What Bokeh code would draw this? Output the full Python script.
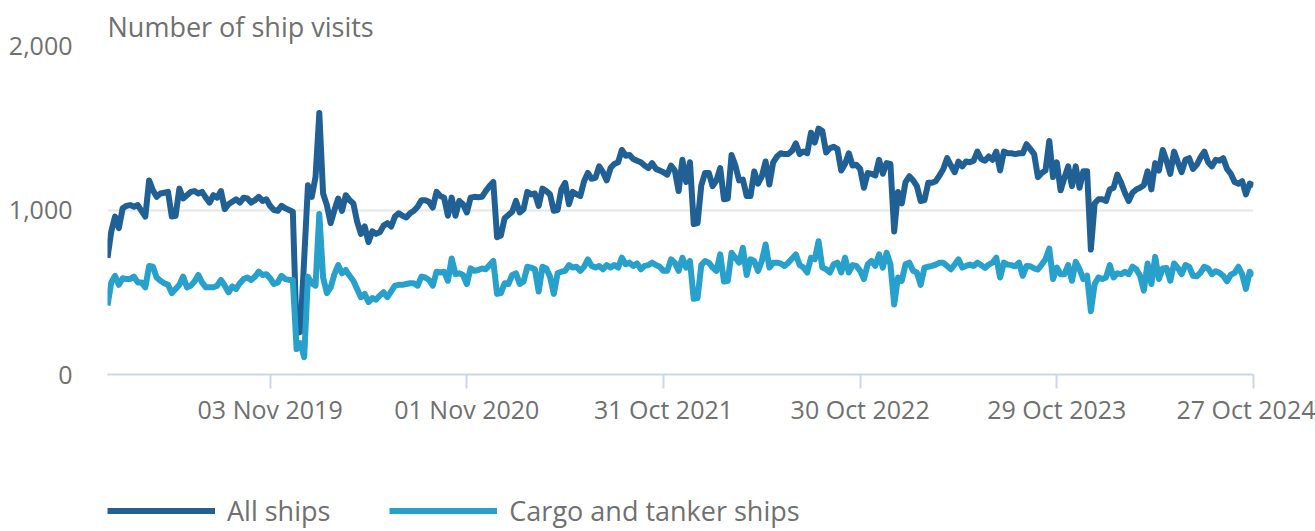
import pandas as pd
from bokeh.plotting import figure
from bokeh.layouts import column
from bokeh.models import (Range1d, FixedTicker, DatetimeTickFormatter, NumeralTickFormatter,
                          Legend, LegendItem, ColumnDataSource)
from bokeh.embed import file_html
from bokeh.resources import INLINE

# ---------------- data ----------------
start_date = "2019-01-06"   # weekly series, Sundays

all_ships = [
    710, 870, 960, 890, 1010, 1025, 1030, 1020, 1030, 995,
    960, 1180, 1120, 1080, 1100, 1105, 1110, 960, 965, 1130,
    1070, 1090, 1110, 1115, 1100, 1110, 1075, 1045, 1090, 1075,
    1115, 1005, 1035, 1050, 1065, 1045, 1075, 1070, 1045, 1060,
    1080, 1055, 1065, 1025, 1000, 995, 1025, 1010, 1000, 990,
    250, 260, 700, 1150, 1080, 1200, 1590, 1100, 1030, 920,
    1000, 1070, 995, 1090, 1060, 1040, 930, 855, 900, 805,
    870, 855, 865, 905, 920, 900, 960, 980, 965, 955,
    980, 995, 1020, 1060, 1060, 1050, 1015, 1110, 1085, 1075,
    965, 1075, 965, 1055, 1035, 985, 1075, 1080, 1078, 1080,
    1115, 1145, 1170, 835, 845, 950, 970, 990, 1055, 985,
    1005, 1110, 1095, 1100, 1025, 1130, 1115, 1095, 995, 1000,
    1125, 1165, 1035, 1110, 1095, 1085, 1175, 1225, 1190, 1195,
    1265, 1230, 1180, 1255, 1280, 1290, 1365, 1330, 1335, 1310,
    1300, 1290, 1270, 1255, 1285, 1250, 1240, 1230, 1215, 1270,
    1240, 1115, 1305, 1170, 1290, 915, 920, 1150, 1225, 1225,
    1145, 1180, 1255, 1065, 1070, 1335, 1270, 1180, 1185, 1085,
    1085, 1235, 1160, 1205, 1295, 1155, 1290, 1325, 1345, 1340,
    1340, 1360, 1405, 1340, 1355, 1345, 1470, 1410, 1495, 1480,
    1350, 1375, 1385, 1370, 1240, 1280, 1345, 1270, 1275, 1250,
    1135, 1225, 1220, 1210, 1305, 1220, 1285, 1280, 870, 1110,
    1040, 1170, 1205, 1180, 1145, 1055, 1060, 1165, 1165, 1175,
    1210, 1250, 1315, 1270, 1230, 1295, 1265, 1295, 1290, 1300,
    1355, 1310, 1300, 1325, 1305, 1355, 1240, 1355, 1345, 1345,
    1340, 1345, 1345, 1400, 1370, 1340, 1200, 1225, 1240, 1420,
    1200, 1290, 1120, 1195, 1265, 1145, 1265, 1135, 1235, 1235,
    760, 1040, 1065, 1065, 1055, 1125, 1135, 1215, 1165, 1105,
    1055, 1105, 1125, 1135, 1150, 1235, 1125, 1285, 1240, 1365,
    1300, 1220, 1355, 1290, 1230, 1305, 1315, 1250, 1275, 1320,
    1355, 1290, 1265, 1305, 1300, 1315, 1250, 1220, 1170, 1160,
    1175, 1095, 1160, 1150,
]

cargo_tanker = [
    420, 560, 600, 545, 585, 580, 580, 595, 560, 560,
    530, 660, 655, 590, 570, 555, 545, 495, 520, 545,
    595, 530, 540, 565, 605, 560, 530, 530, 530, 540,
    575, 540, 500, 535, 520, 555, 580, 590, 575, 595,
    625, 605, 610, 585, 550, 560, 600, 580, 575, 575,
    155, 190, 105, 595, 555, 540, 975, 590, 495, 530,
    610, 665, 615, 635, 600, 570, 520, 470, 490, 440,
    465, 455, 480, 500, 470, 505, 540, 545, 545, 550,
    555, 555, 540, 595, 590, 575, 540, 625, 620, 625,
    570, 705, 610, 615, 605, 550, 645, 630, 635, 645,
    640, 665, 690, 490, 495, 555, 550, 605, 615, 550,
    565, 655, 650, 640, 505, 655, 645, 595, 490, 615,
    625, 630, 665, 650, 655, 630, 655, 700, 660, 650,
    660, 640, 665, 650, 665, 650, 710, 670, 680, 660,
    675, 640, 660, 665, 680, 665, 655, 630, 630, 700,
    680, 630, 710, 650, 690, 460, 465, 665, 690, 680,
    650, 630, 730, 565, 570, 740, 710, 680, 770, 605,
    700, 690, 630, 690, 790, 650, 680, 680, 675, 660,
    680, 705, 730, 665, 650, 620, 710, 700, 810, 650,
    640, 620, 670, 680, 620, 710, 620, 665, 660, 630,
    580, 670, 690, 660, 730, 650, 740, 670, 425, 590,
    570, 670, 680, 630, 620, 545, 650, 655, 660, 668,
    680, 680, 660, 640, 668, 700, 650, 660, 668, 660,
    680, 665, 648, 668, 680, 710, 590, 680, 668, 665,
    658, 680, 600, 660, 658, 645, 638, 668, 700, 765,
    580, 650, 610, 610, 665, 570, 685, 640, 580, 600,
    385, 550, 590, 580, 590, 665, 590, 615, 610, 625,
    610, 655, 640, 600, 510, 675, 550, 715, 580, 645,
    648, 570, 675, 648, 610, 665, 655, 600, 597, 620,
    655, 645, 610, 628, 618, 600, 567, 607, 618, 655,
    610, 520, 625, 600,
]

series_names = ["All ships", "Cargo and tanker ships"]
tick_dates = ["2019-11-03", "2020-11-01", "2021-10-31", "2022-10-30", "2023-10-29", "2024-10-27"]
y_ticks = [0, 1000, 2000]
title_text = "Number of ship visits"

# ---------------- build ----------------
dates = pd.date_range(start_date, periods=len(all_ships), freq="7D")
src = ColumnDataSource(dict(date=dates, all=all_ships, cargo=cargo_tanker))

DARK = "#206095"
LIGHT = "#27A0CC"
GREY = "#707070"
FONT = "Open Sans"

p = figure(width=1315, height=440, x_axis_type="datetime",
           output_backend="svg", toolbar_location=None,
           x_range=Range1d(dates[0], dates[-1]), y_range=Range1d(0, 2000),
           min_border_left=107, min_border_right=62, min_border_top=45,
           min_border_bottom=66, title=title_text)

p.title.text_font = FONT
p.title.text_font_size = "27px"
p.title.text_font_style = "normal"
p.title.text_color = GREY
p.title.align = "left"
p.title.offset = 0
p.title.standoff = 1

p.line("date", "all", source=src, line_color=DARK, line_width=6, line_join="round")
p.line("date", "cargo", source=src, line_color=LIGHT, line_width=6, line_join="round")

p.outline_line_color = None
p.xgrid.grid_line_color = None
p.ygrid.grid_line_color = "#e6e6e6"
p.ygrid.grid_line_width = 2

# y axis
p.yaxis.ticker = FixedTicker(ticks=y_ticks)
p.yaxis.formatter = NumeralTickFormatter(format="0,0")
p.yaxis.axis_line_color = None
p.yaxis.major_tick_line_color = None
p.yaxis.minor_tick_line_color = None
p.yaxis.major_label_standoff = 29
p.yaxis.major_label_text_font = FONT
p.yaxis.major_label_text_font_size = "25px"
p.yaxis.major_label_text_color = GREY

# x axis
tick_ms = [pd.Timestamp(d).value // 10**6 for d in tick_dates]
p.xaxis.ticker = FixedTicker(ticks=tick_ms)
fmt = "%d %b %Y"
p.xaxis.formatter = DatetimeTickFormatter(days=fmt, months=fmt, years=fmt, hours=fmt,
                                          minutes=fmt, seconds=fmt, milliseconds=fmt,
                                          microseconds=fmt, minsec=fmt, hourmin=fmt)
p.xaxis.axis_line_color = "#ccd6eb"
p.xaxis.axis_line_width = 2
p.xaxis.major_tick_line_color = "#ccd6eb"
p.xaxis.major_tick_line_width = 2
p.xaxis.major_tick_in = 0
p.xaxis.major_tick_out = 14
p.xaxis.minor_tick_line_color = None
p.xaxis.major_label_standoff = 3
p.xaxis.major_label_text_font = FONT
p.xaxis.major_label_text_font_size = "25px"
p.xaxis.major_label_text_color = GREY

# ---------------- legend strip (separate small figure under the chart) ----------------
leg_fig = figure(width=1315, height=91, output_backend="svg", toolbar_location=None,
                 x_axis_location=None, y_axis_location=None,
                 x_range=Range1d(0, 1), y_range=Range1d(0, 1),
                 min_border_left=0, min_border_right=0, min_border_top=0, min_border_bottom=0)
leg_fig.outline_line_color = None
leg_fig.xgrid.grid_line_color = None
leg_fig.ygrid.grid_line_color = None
# legend proxies: same series, drawn outside this strip's visible range
k1 = leg_fig.line("date", "all", source=src, line_color=DARK, line_width=6)
k2 = leg_fig.line("date", "cargo", source=src, line_color=LIGHT, line_width=6)

legend = Legend(items=[LegendItem(label=series_names[0], renderers=[k1]),
                       LegendItem(label=series_names[1], renderers=[k2])],
                orientation="horizontal", location=(0, 2))
legend.glyph_width = 108
legend.glyph_height = 27
legend.label_text_font = FONT
legend.label_text_font_size = "27px"
legend.label_text_color = GREY
legend.label_standoff = 12
legend.spacing = 59
legend.padding = 0
legend.margin = 0
legend.border_line_color = None
legend.background_fill_alpha = 0
leg_fig.add_layout(legend, "center")

layout = column(p, leg_fig, spacing=0)
open("out.html", "w").write(file_html(layout, INLINE))
